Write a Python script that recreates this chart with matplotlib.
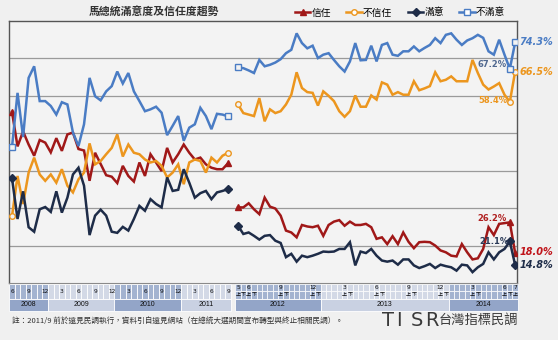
import numpy as np
import matplotlib
matplotlib.use("Agg")
import matplotlib.pyplot as plt
from matplotlib.lines import Line2D
from matplotlib.patches import Rectangle

plt.rcParams['font.family'] = ['Noto Sans CJK TC', 'DejaVu Sans']

# monthly readings 2008/6 - 2011/9 (遠見)
trust_1 = [55.7, 46.5, 50.5, 47.0, 44.0, 48.2, 47.5, 44.9, 48.7, 45.3,
           49.7, 50.2, 45.8, 45.4, 37.3, 44.8, 41.8, 38.8, 38.4, 36.7,
           41.3, 38.6, 37.1, 42.2, 38.6, 44.4, 42.2, 39.9, 46.1, 42.2,
           44.4, 47.0, 44.8, 43.0, 43.5, 41.7, 40.8, 40.4, 40.4, 42.0]
distrust_1 = [27.8, 38.6, 31.1, 39.5, 43.5, 39.0, 37.3, 39.0, 36.8, 40.4,
              36.0, 34.2, 37.7, 39.5, 47.3, 41.7, 42.6, 44.4, 46.1, 49.7,
              43.8, 47.0, 44.8, 44.4, 43.0, 42.2, 42.6, 41.3, 38.2, 39.5,
              41.7, 36.4, 42.2, 43.0, 42.6, 39.5, 43.5, 42.2, 44.0, 44.8]
sat_1 = [38.0, 27.1, 34.5, 24.9, 23.7, 29.7, 30.3, 29.0, 34.5, 28.8,
         32.8, 39.0, 40.8, 36.0, 22.8, 28.0, 29.6, 28.0, 23.7, 23.4,
         25.0, 24.0, 27.1, 30.6, 29.3, 32.4, 31.1, 30.2, 38.2, 34.6,
         34.9, 40.4, 36.8, 32.8, 34.0, 34.6, 32.4, 34.2, 34.6, 35.1]
dissat_1 = [46.3, 60.8, 49.0, 64.8, 67.9, 58.6, 58.6, 57.3, 55.0, 58.3,
            57.7, 50.2, 46.6, 52.4, 64.8, 59.9, 58.8, 61.2, 62.6, 66.5,
            63.3, 66.1, 61.2, 58.6, 55.9, 56.4, 57.1, 55.5, 49.5, 52.0,
            54.6, 48.0, 51.5, 52.4, 56.8, 54.6, 51.1, 55.2, 55.0, 54.5]

# half-monthly readings 2012/5上 - 2014/7上 (TISR)
trust_2 = [30.2, 30.2, 31.3, 29.7, 28.4, 32.8, 30.4, 29.9, 28.0, 24.0,
           23.5, 22.2, 25.5, 25.1, 24.9, 25.3, 22.6, 25.5, 26.4, 26.8,
           25.3, 26.4, 25.5, 25.5, 25.8, 24.9, 21.8, 22.2, 20.4, 22.5,
           20.4, 23.5, 21.0, 19.3, 20.9, 21.0, 20.9, 20.0, 18.7, 18.2,
           17.3, 17.1, 20.4, 18.2, 16.3, 16.6, 19.1, 24.9, 22.8, 25.8,
           26.0, 26.2, 18.0]
distrust_2 = [57.7, 55.4, 55.0, 54.6, 59.4, 53.2, 56.4, 55.4, 55.9, 57.7,
              60.3, 66.3, 62.1, 61.0, 60.8, 57.4, 61.2, 60.0, 58.6, 55.9,
              54.4, 55.9, 60.1, 57.1, 57.1, 60.1, 59.0, 63.6, 63.0, 60.3,
              61.0, 60.3, 60.3, 63.9, 61.5, 62.0, 62.6, 66.3, 63.9, 64.3,
              65.2, 63.9, 63.9, 63.9, 69.6, 66.1, 63.0, 61.7, 62.5, 63.4,
              60.3, 58.4, 66.5]
sat_2 = [25.3, 23.1, 23.5, 22.6, 21.6, 22.6, 22.8, 21.3, 20.7, 16.9,
         17.8, 15.7, 17.3, 16.9, 17.3, 17.8, 18.4, 18.3, 18.4, 19.1,
         19.1, 20.9, 14.7, 18.4, 18.0, 19.1, 17.3, 16.0, 15.7, 16.0,
         14.9, 16.3, 16.3, 14.7, 14.0, 14.5, 15.1, 14.0, 14.9, 14.5,
         14.2, 13.3, 14.9, 14.7, 12.9, 14.2, 15.1, 18.2, 16.3, 18.2,
         19.1, 21.1, 14.8]
dissat_2 = [67.6, 67.4, 66.8, 66.1, 69.6, 67.9, 68.3, 68.9, 69.8, 71.4,
            72.3, 76.7, 74.1, 72.7, 73.4, 70.1, 71.0, 71.4, 69.6, 67.9,
            66.5, 69.2, 74.1, 69.5, 69.6, 73.4, 69.2, 73.6, 74.1, 71.0,
            70.7, 71.9, 71.9, 73.2, 71.9, 72.8, 73.6, 75.4, 74.1, 76.3,
            76.7, 75.0, 73.6, 74.8, 75.4, 76.3, 75.5, 71.9, 71.0, 75.0,
            71.0, 67.2, 74.3]

series_names = ['信任', '不信任', '滿意', '不滿意']
series_1 = [trust_1, distrust_1, sat_1, dissat_1]
series_2 = [trust_2, distrust_2, sat_2, dissat_2]

years_1 = ['2008', '2009', '2010', '2011']
months_in_year_1 = [7, 12, 12, 9]
years_2 = ['2012', '2013', '2014']
slots_in_year_2 = [16, 24, 13]
month_labels_1 = [(0, '6'), (3, '9'), (6, '12'), (9, '3'), (12, '6'), (15, '9'),
                  (18, '12'), (21, '3'), (24, '6'), (27, '9'), (30, '12'),
                  (33, '3'), (36, '6'), (39, '9')]
month_labels_2 = [(0, '5'), (2, '6'), (8, '9'), (14, '12'), (20, '3'), (26, '6'),
                  (32, '9'), (38, '12'), (44, '3'), (50, '6'), (52, '7')]

# styling
colors = ['#a01818', '#ec961e', '#1e2c48', '#4a7cc4']
markers = ['^', 'o', 'D', 's']
hollow = [False, True, False, True]

W, H = 558, 340
L, R, T, B = 9, 517, 21, 283
step_1, start_1 = 5.54, 12
step_2, start_2 = 5.33, 238
x1 = start_1 + step_1 * np.arange(len(trust_1))
x2 = start_2 + step_2 * np.arange(len(trust_2))

fig = plt.figure(figsize=(W / 100, H / 100), dpi=100, facecolor='#f0f0f0')

# overlay in pixel units for table, notes and logo
ov = fig.add_axes([0, 0, 1, 1])
ov.set_xlim(0, W)
ov.set_ylim(H, 0)
ov.axis('off')

ax = fig.add_axes([L / W, 1 - B / H, (R - L) / W, (B - T) / H])
ax.set_facecolor('#f3f3f3')
ax.set_xlim(L, R)
ax.set_ylim(10, 80)
ax.set_yticks(range(20, 80, 10))
ax.set_xticks([])
ax.tick_params(left=False, labelleft=False)
ax.grid(axis='y', color='#9a9a9a', lw=0.9)
ax.set_axisbelow(True)
for side in ['left', 'top', 'right']:
    ax.spines[side].set_color('#555555')
    ax.spines[side].set_linewidth(1.0)
ax.spines['bottom'].set_color('#8a8a8a')

for k in range(4):
    c = colors[k]
    mfc = '#f3f3f3' if hollow[k] else c
    for xs, ys, marks in [(x1, series_1[k], [0, len(x1) - 1]),
                          (x2, series_2[k], [0, len(x2) - 2, len(x2) - 1])]:
        ax.plot(xs, ys, color=c, lw=1.8, solid_joinstyle='miter', zorder=3,
                marker=markers[k], markevery=marks, ms=4, mfc=mfc, mec=c, mew=1.0)

# value labels at the end
end_fmt = dict(textcoords='offset points', annotation_clip=False, va='center',
               fontsize=7, fontweight='bold', style='italic', family='DejaVu Sans')
ax.annotate('74.3%', (x2[-1], dissat_2[-1]), xytext=(3, 0), color='#4a7cc4', **end_fmt)
ax.annotate('66.5%', (x2[-1], distrust_2[-1]), xytext=(3, 0), color='#ec961e', **end_fmt)
ax.annotate('18.0%', (x2[-1], trust_2[-1]), xytext=(3, 1), color='#c0141a', **end_fmt)
ax.annotate('14.8%', (x2[-1], sat_2[-1]), xytext=(3, 0), color='#1e2c48', **end_fmt)

mid_fmt = dict(textcoords='offset points', annotation_clip=False, ha='right',
               va='center', fontsize=6, fontweight='bold', family='DejaVu Sans')
ax.annotate('67.2%', (x2[-2], dissat_2[-2]), xytext=(-2, 3), color='#50688f', **mid_fmt)
ax.annotate('58.4%', (x2[-2], distrust_2[-2]), xytext=(-2, 1), color='#ec961e', **mid_fmt)
ax.annotate('26.2%', (x2[-2], trust_2[-2]), xytext=(-2, 3), color='#b02020', **mid_fmt)
ax.annotate('21.1%', (x2[-2], sat_2[-2]), xytext=(-1, 0), color='#2a3a58', **mid_fmt)

# legend
handles = [Line2D([], [], color=colors[k], lw=1.8, marker=markers[k], ms=4,
                  mfc=('white' if hollow[k] else colors[k]), mec=colors[k])
           for k in range(4)]
fig.legend(handles, series_names, loc='center right', ncol=4, frameon=False,
           bbox_to_anchor=(510 / W, 1 - 12.5 / H), fontsize=7, handlelength=1.6,
           columnspacing=1.6, handletextpad=0.1, borderpad=0)

fig.text(154 / W, 1 - 12 / H, '馬總統滿意度及信任度趨勢', ha='center', va='center',
         fontsize=7.8, fontweight='bold', color='#333333')

# date table under the plot
dark_year, light_year = '#93a5c8', '#c9d1e2'
dark_month, light_month = '#a3b3d0', '#d3d9e6'
MT, MB, YB = 284, 298.5, 311
tiny = dict(ha='center', va='center', fontsize=4.2, color='#111111', family='DejaVu Sans')

pos = 0
for n, (yr, cnt) in enumerate(zip(years_1, months_in_year_1)):
    fy = dark_year if n % 2 == 0 else light_year
    fm = dark_month if n % 2 == 0 else light_month
    for i in range(pos, pos + cnt):
        ov.add_patch(Rectangle((x1[i] - step_1 / 2, MT), step_1, MB - MT, fc=fm, ec='white', lw=0.6))
    xa, xb = x1[pos] - step_1 / 2, x1[pos + cnt - 1] + step_1 / 2
    ov.add_patch(Rectangle((xa, MB), xb - xa, YB - MB, fc=fy, ec='white', lw=0.6))
    ov.text((xa + xb) / 2, (MB + YB) / 2, yr, ha='center', va='center', fontsize=5,
            family='Liberation Sans', color='#111111')
    pos += cnt
for i, lab in month_labels_1:
    ov.text(x1[i], (MT + MB) / 2, lab, **tiny)

MM = (MT + MB) / 2
pos = 0
for n, (yr, cnt) in enumerate(zip(years_2, slots_in_year_2)):
    fy = dark_year if n % 2 == 0 else light_year
    fm = dark_month if n % 2 == 0 else light_month
    for j in range(pos, pos + cnt):
        ov.add_patch(Rectangle((x2[j] - step_2 / 2, MT), step_2, MM - MT, fc=fm, ec='white', lw=0.5))
        ov.add_patch(Rectangle((x2[j] - step_2 / 2, MM), step_2, MB - MM, fc=fm, ec='white', lw=0.5))
    xa, xb = x2[pos] - step_2 / 2, x2[pos + cnt - 1] + step_2 / 2
    ov.add_patch(Rectangle((xa, MB), xb - xa, YB - MB, fc=fy, ec='white', lw=0.6))
    ov.text((xa + xb) / 2, (MB + YB) / 2, yr, ha='center', va='center', fontsize=5,
            family='Liberation Sans', color='#111111')
    pos += cnt
for j, lab in month_labels_2:
    ov.text(x2[j], (MT + MM) / 2, lab, **tiny)
    for h, half in enumerate(['上', '下']):
        if j + h < len(x2):
            ov.text(x2[j + h], (MM + MB) / 2, half, ha='center', va='center',
                    fontsize=3.6, color='#111111')

fig.text(12 / W, 1 - 321 / H,
         '註：2011/9 前於遠見民調執行，資料引自遠見網站（在總統大選期間宣布轉型與終止相關民調）。',
         ha='left', va='center', fontsize=5.5, color='#333333')
# logo: spaced letters
for n, ch in enumerate('TISR'):
    fig.text((382 + n * 14.5) / W, 1 - 320 / H, ch, ha='left', va='center',
             fontsize=14, family='DejaVu Sans', color='#3a3a3a')
fig.text(518 / W, 1 - 320 / H, '台灣指標民調', ha='right', va='center', fontsize=9.5,
         color='#3a3a3a')

fig.savefig('out.png', dpi=100, facecolor=fig.get_facecolor())
